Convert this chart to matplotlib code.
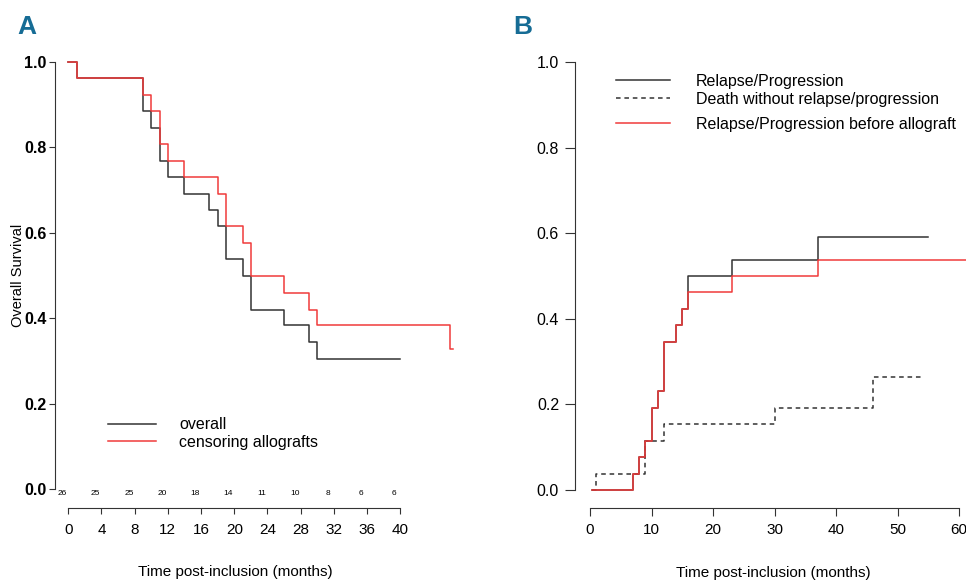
import numpy as np
import matplotlib
matplotlib.use("Agg")
import matplotlib.pyplot as plt

plt.rcParams['font.family'] = ['Liberation Sans', 'DejaVu Sans']

# Panel A: overall survival (Kaplan-Meier steps)
a_overall_t = [0, 1, 9, 10, 11, 12, 14, 17, 18, 19, 21, 22, 26, 29, 30, 40]
a_overall_s = [1.0, 0.962, 0.885, 0.846, 0.769, 0.731, 0.692, 0.654, 0.615,
               0.538, 0.500, 0.420, 0.385, 0.344, 0.304, 0.304]
a_cens_t = [0, 1, 9, 10, 11, 12, 14, 18, 19, 21, 22, 26, 29, 30, 46, 46.4]
a_cens_s = [1.0, 0.962, 0.923, 0.885, 0.808, 0.769, 0.731, 0.692, 0.615,
            0.577, 0.500, 0.459, 0.420, 0.385, 0.327, 0.327]
a_risk_t = [0, 4, 8, 12, 16, 20, 24, 28, 32, 36, 40]
a_risk_n = [26, 25, 25, 20, 18, 14, 11, 10, 8, 6, 6]
a_xticks = [0, 4, 8, 12, 16, 20, 24, 28, 32, 36, 40]

# Panel B: cumulative incidence
b_rel_t = [0.3, 7, 8, 9, 10, 11, 12, 14, 15, 16, 23, 37, 55]
b_rel_s = [0.0, 0.038, 0.077, 0.115, 0.192, 0.231, 0.346, 0.385, 0.423,
           0.500, 0.538, 0.592, 0.592]
b_death_t = [0.3, 1, 9, 12, 30, 46, 54]
b_death_s = [0.0, 0.038, 0.115, 0.154, 0.192, 0.263, 0.263]
b_relb_t = [0.3, 7, 8, 9, 10, 11, 12, 14, 15, 16, 23, 37, 62]
b_relb_s = [0.0, 0.038, 0.077, 0.115, 0.192, 0.231, 0.346, 0.385, 0.423,
            0.462, 0.500, 0.538, 0.538]
b_xticks = [0, 10, 20, 30, 40, 50, 60]
b_labels = ['Relapse/Progression', 'Death without relapse/progression',
            'Relapse/Progression before allograft']

yticks = [0.0, 0.2, 0.4, 0.6, 0.8, 1.0]
RED = '#f03a3a'
DARK = '#333333'
BLUE = '#166c95'
PANEL_FONT = ['Liberation Sans Narrow', 'Liberation Sans', 'DejaVu Sans']

W, H = 966, 581
fig = plt.figure(figsize=(W / 100, H / 100), dpi=100)


def box(l, t, r, b):
    return [l / W, 1 - b / H, (r - l) / W, (b - t) / H]


# ---------- Panel A ----------
ax = fig.add_axes(box(55, 62, 460, 489))
ax.set_xlim(-1.6, 47.2)
ax.set_ylim(0, 1)
ax.step(a_overall_t, a_overall_s, where='post', color=DARK, lw=1.1,
        clip_on=False, label='overall')
ax.step(a_cens_t, a_cens_s, where='post', color=RED, lw=1.1,
        clip_on=False, label='censoring allografts')
for t, n in zip(a_risk_t, a_risk_n):
    ax.text(t - 0.7, -0.01, str(n), fontsize=6, ha='center', va='center')

for s in ['top', 'right']:
    ax.spines[s].set_visible(False)
ax.spines['bottom'].set_position(('outward', 13.7))
ax.spines['bottom'].set_bounds(0, 40)
ax.spines['left'].set_color(DARK)
ax.spines['bottom'].set_color(DARK)
ax.set_xticks(a_xticks)
ax.set_yticks(yticks)
ax.set_yticklabels([f'{v:.1f}' for v in yticks], fontsize=11.5, fontweight='bold')
ax.tick_params(axis='x', labelsize=11, length=4.5, pad=6, color=DARK)
ax.tick_params(axis='y', length=4, pad=2, color=DARK)
ax.set_xlabel('Time post-inclusion (months)', fontsize=11, va='top')
ax.xaxis.set_label_coords((235 - 55) / 405, -0.178)
ax.set_ylabel('Overall Survival', fontsize=10.5)
ax.yaxis.set_label_coords(-0.074, 0.5)
ax.legend(loc='upper left', bbox_to_anchor=(0.131, 0.168), frameon=False,
          fontsize=11.5, handlelength=3.0, handletextpad=1.45, labelspacing=0.14,
          borderpad=0, borderaxespad=0)
fig.text(17 / W, 1 - 27 / H, 'A', fontsize=19, fontweight='bold', color=BLUE,
         family=PANEL_FONT, va='center')

# ---------- Panel B ----------
bx = fig.add_axes(box(575, 62, 966, 490))
bx.set_xlim(-2.44, 61.1)
bx.set_ylim(0, 1)
bx.step(b_rel_t, b_rel_s, where='post', color=DARK, lw=1.1, clip_on=False)
bx.step(b_death_t, b_death_s, where='post', color=DARK, lw=1.1, ls=(0, (3, 2.5)),
        clip_on=False)
bx.step(b_relb_t, b_relb_s, where='post', color=RED, lw=1.1, clip_on=False)
for s in ['top', 'right']:
    bx.spines[s].set_visible(False)
bx.spines['bottom'].set_position(('outward', 13))
bx.spines['bottom'].set_bounds(0, 60)
bx.spines['left'].set_color(DARK)
bx.spines['bottom'].set_color(DARK)
bx.set_xticks(b_xticks)
bx.set_yticks(yticks)
bx.set_yticklabels([f'{v:.1f}' for v in yticks])
bx.tick_params(axis='x', labelsize=11, length=6, pad=4.5, color=DARK)
bx.tick_params(axis='y', labelsize=11.5, length=7.5, pad=4, color=DARK)
bx.set_xlabel('Time post-inclusion (months)', fontsize=11, va='top')
bx.xaxis.set_label_coords((773 - 575) / 391, -0.178)

# legend drawn by hand to keep the uneven row spacing of the original
leg_styles = [dict(color=DARK, ls='-'), dict(color=DARK, ls=(0, (3, 2.5))),
              dict(color=RED, ls='-')]
leg_rows = [80, 98, 123]
for lab, sty, yp in zip(b_labels, leg_styles, leg_rows):
    yf = 1 - yp / H
    fig.add_artist(plt.Line2D([616 / W, 670 / W], [yf, yf], lw=1.1, **sty))
    fig.text(696 / W, yf - 1.5 / H, lab, fontsize=11.5, va='center', ha='left')
fig.text(513 / W, 1 - 27 / H, 'B', fontsize=19, fontweight='bold', color=BLUE,
         family=PANEL_FONT, va='center')

fig.savefig('out.png', dpi=100)
